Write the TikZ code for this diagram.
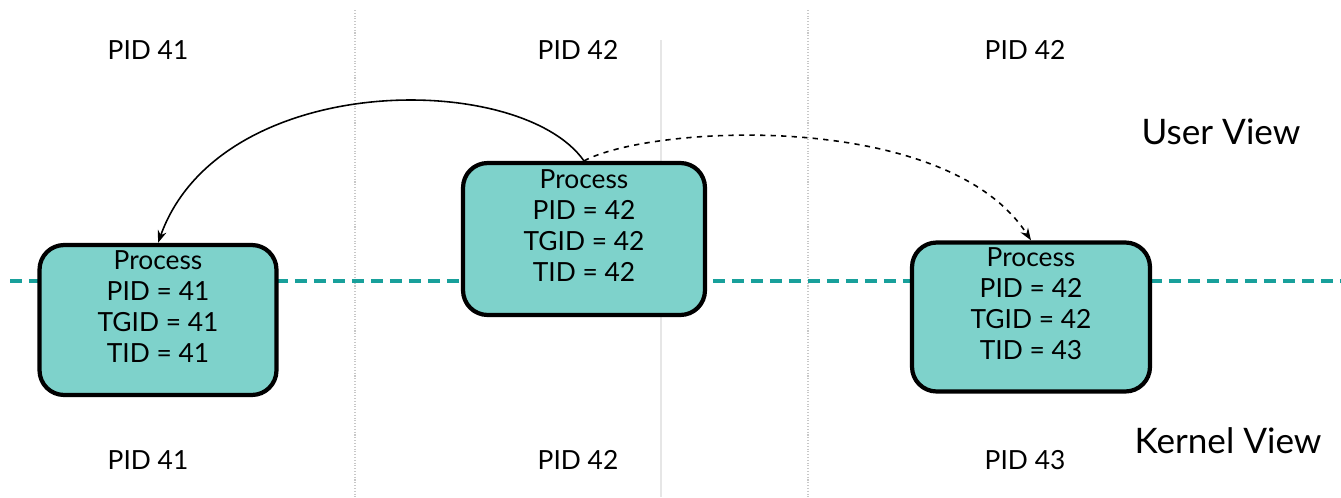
\documentclass[tikz,border=0pt]{standalone}
\usepackage{fontspec}
\setmainfont{Lato}
\usetikzlibrary{arrows.meta,positioning}
\definecolor{boxteal}{RGB}{126,210,203}
\definecolor{lineteal}{RGB}{24,160,155}
\definecolor{sepgray}{RGB}{200,200,200}

\begin{document}
\begin{tikzpicture}[x=0.02cm,y=-0.02cm,>={Stealth[length=7pt,width=5pt]},
  procbox/.style={draw,line width=2.4pt,fill=boxteal,rounded corners=14pt,
    line join=round,align=center,inner sep=0pt,text depth=0.55cm,
    font=\fontsize{15}{17.6}\selectfont},
  pidlabel/.style={font=\fontsize{15}{18}\selectfont},
  viewlabel/.style={font=\fontsize{20}{24}\selectfont}]
\useasboundingbox (0,0) rectangle (1341,497);
% separators
\draw[sepgray,densely dotted,line width=0.6pt] (355,10) -- (355,497);
\draw[sepgray,densely dotted,line width=0.6pt] (808,10) -- (808,497);
\draw[sepgray!45,line width=0.6pt] (661,40) -- (661,497);
\draw[lineteal,line width=0.08cm,dash pattern=on 0.24cm off 0.14cm] (10,281) -- (1341,281);
% processes
\node[procbox,minimum width=4.74cm,minimum height=3cm] (p41) at (158,320)
  {Process\\PID = 41\\TGID = 41\\TID = 41};
\node[procbox,minimum width=4.84cm,minimum height=3.04cm] (p42) at (584,239)
  {Process\\PID = 42\\TGID = 42\\TID = 42};
\node[procbox,minimum width=4.76cm,minimum height=2.98cm] (p43) at (1031,317)
  {Process\\PID = 42\\TGID = 42\\TID = 43};
% pid labels
\node[pidlabel] (u41) at (148,50) {PID 41};
\node[pidlabel] (u42) at (578,50) {PID 42};
\node[pidlabel] (u43) at (1025,50) {PID 42};
\node[pidlabel] (k41) at (148,460) {PID 41};
\node[pidlabel] (k42) at (578,460) {PID 42};
\node[pidlabel] (k43) at (1025,460) {PID 43};
\node[viewlabel] (user) at (1221,132) {User View};
\node[viewlabel] (kernel) at (1228,441) {Kernel View};
% arrows
\draw[->,line width=0.9pt] (p42.north) .. controls (520,70) and (220,70) .. (p41.north);
\draw[->,line width=0.9pt,dashed] (p42.north) .. controls (650,125) and (946,109) .. (p43.north);
\end{tikzpicture}
\end{document}
